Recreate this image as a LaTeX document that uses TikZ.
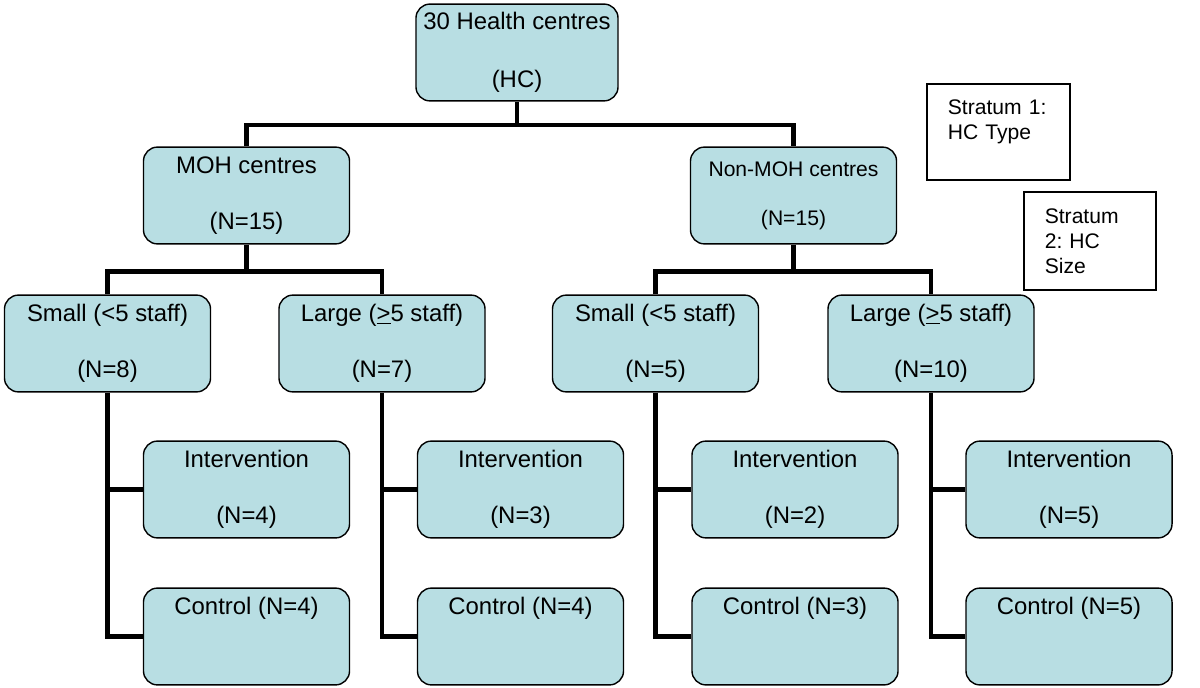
\documentclass[tikz,border=0pt]{standalone}
\usepackage{fontspec}
\setmainfont{Liberation Sans}
\usetikzlibrary{positioning, calc}
\definecolor{boxfill}{RGB}{184,222,227}
\frenchspacing

\begin{document}
\begin{tikzpicture}[
        x=0.025cm, y=-0.025cm,
        box/.style={rectangle, rounded corners=0.35cm, draw, line width=1pt, fill=boxfill,
            minimum width=5.15cm, minimum height=2.42cm, align=center, inner sep=2pt,
            font=\fontsize{17}{20}\selectfont},
        note/.style={rectangle, draw, line width=1pt, align=left, inner ysep=0pt, inner xsep=0.52cm,
            font=\fontsize{15}{17.7}\selectfont},
        link/.style={line width=3.5pt}
    ]
        \useasboundingbox (0,0) rectangle (1200,688);

        % Top two levels
        \node [box, minimum width=5.05cm] (root) at (517,52.5) {30 Health centres\\[21pt](HC)};
        \node [box] (MOH) at (246.5,195.5) {MOH centres\\[20pt](N=15)};
        \node [box, font=\fontsize{15}{18}\selectfont] (NonMOH) at (793.5,195.5) {Non-MOH centres\\[17pt](N=15)};

        % HC size
        \node [box] (S1) at (107.5,343.5) {Small (<5 staff)\\[20pt](N=8)};
        \node [box] (L1) at (382,343.5) {Large (\underline{>}5 staff)\\[20pt](N=7)};
        \node [box] (S2) at (655.5,343.5) {Small (<5 staff)\\[20pt](N=5)};
        \node [box] (L2) at (931,343.5) {Large (\underline{>}5 staff)\\[20pt](N=10)};

        % Intervention / control arms
        \node [box] (I1) at (246.5,489.5) {Intervention\\[20pt](N=4)};
        \node [box] (C1) at (246.5,636.5) {Control (N=4)\\[20pt]\phantom{(N=4)}};
        \node [box] (I2) at (520.5,489.5) {Intervention\\[20pt](N=3)};
        \node [box] (C2) at (520.5,636.5) {Control (N=4)\\[20pt]\phantom{(N=4)}};
        \node [box] (I3) at (795,489.5) {Intervention\\[20pt](N=2)};
        \node [box] (C3) at (795,636.5) {Control (N=3)\\[20pt]\phantom{(N=3)}};
        \node [box] (I4) at (1069,489.5) {Intervention\\[20pt](N=5)};
        \node [box] (C4) at (1069,636.5) {Control (N=5)\\[20pt]\phantom{(N=5)}};

        % Strata labels
        \node [note, text width=2.53cm, minimum height=2.4cm] (st1) at (998.5,132) {Stratum 1:\\HC Type\\~};
        \node [note, text width=2.26cm, minimum height=2.45cm] (st2) at (1090,241) {Stratum\\2: HC\\Size};

        % Connectors
        \coordinate (j0) at (517,125);
        \draw [link] (root) -- (j0);
        \draw [link] (MOH.north) |- (j0) -| (NonMOH.north);

        \draw [link] (MOH.south) -- ++(0,27) coordinate (j1);
        \draw [link] (S1.north) |- (j1) -| (L1.north);
        \draw [link] (NonMOH.south) -- ++(0,27) coordinate (j2);
        \draw [link] (S2.north) |- (j2) -| (L2.north);

        \draw [link] (S1.south) |- (C1.west);
        \draw [link] (S1.south |- I1.west) -- (I1.west);
        \draw [link] (L1.south) |- (C2.west);
        \draw [link] (L1.south |- I2.west) -- (I2.west);
        \draw [link] (S2.south) |- (C3.west);
        \draw [link] (S2.south |- I3.west) -- (I3.west);
        \draw [link] (L2.south) |- (C4.west);
        \draw [link] (L2.south |- I4.west) -- (I4.west);
    \end{tikzpicture}
\end{document}
